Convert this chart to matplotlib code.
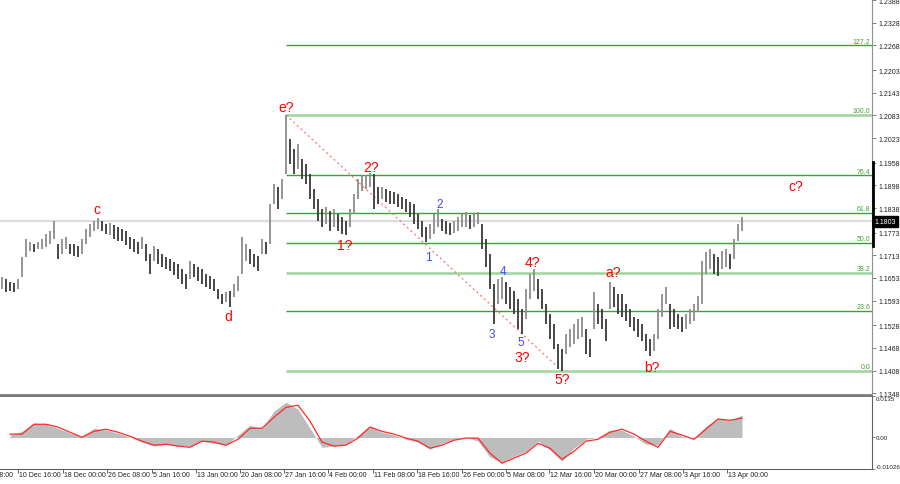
import numpy as np
import matplotlib.pyplot as plt

plt.rcParams['font.family'] = ['Liberation Sans', 'DejaVu Sans']

# H4 bars (high / low)
bar_high = [
    1.1655, 1.1650, 1.1642, 1.1640, 1.1650, 1.1708, 1.1756, 1.1748, 1.1743, 1.1748,
    1.1756, 1.1769, 1.1777, 1.1804, 1.1743, 1.1756, 1.1761, 1.1743, 1.1743, 1.1738,
    1.1756, 1.1782, 1.1796, 1.1804, 1.1811, 1.1804, 1.1796, 1.1798, 1.1793, 1.1788,
    1.1782, 1.1777, 1.1761, 1.1756, 1.1748, 1.1761, 1.1743, 1.1716, 1.1738, 1.1730,
    1.1716, 1.1708, 1.1703, 1.1695, 1.1690, 1.1677, 1.1663, 1.1698, 1.1690, 1.1682,
    1.1677, 1.1663, 1.1658, 1.1650, 1.1624, 1.1610, 1.1616, 1.1618, 1.1637, 1.1658,
    1.1761, 1.1743, 1.1730, 1.1716, 1.1711, 1.1756, 1.1748, 1.1849, 1.1901, 1.1894,
    1.1915, 1.2084, 1.2021, 1.1994, 1.2007, 1.1968, 1.1954, 1.1928, 1.1888, 1.1862,
    1.1835, 1.1841, 1.1830, 1.1835, 1.1822, 1.1814, 1.1804, 1.1835, 1.1875, 1.1915,
    1.1925, 1.1925, 1.1931, 1.1928, 1.1894, 1.1894, 1.1888, 1.1883, 1.1880, 1.1875,
    1.1867, 1.1862, 1.1854, 1.1849, 1.1822, 1.1804, 1.1788, 1.1796, 1.1822, 1.1835,
    1.1809, 1.1804, 1.1798, 1.1804, 1.1814, 1.1822, 1.1827, 1.1819, 1.1822, 1.1827,
    1.1796, 1.1756, 1.1716, 1.1637, 1.1650, 1.1655, 1.1642, 1.1629, 1.1618, 1.1597,
    1.1571, 1.1624, 1.1663, 1.1677, 1.1650, 1.1624, 1.1584, 1.1558, 1.1531, 1.1478,
    1.1465, 1.1505, 1.1518, 1.1531, 1.1544, 1.1550, 1.1518, 1.1491, 1.1616, 1.1584,
    1.1571, 1.1544, 1.1642, 1.1629, 1.1610, 1.1610, 1.1584, 1.1571, 1.1550, 1.1544,
    1.1531, 1.1505, 1.1491, 1.1505, 1.1571, 1.1610, 1.1629, 1.1584, 1.1571, 1.1558,
    1.1550, 1.1558, 1.1571, 1.1584, 1.1605, 1.1698, 1.1722, 1.1730, 1.1716, 1.1708,
    1.1724, 1.1730, 1.1716, 1.1756, 1.1796, 1.1814]
bar_low = [
    1.1624, 1.1616, 1.1618, 1.1616, 1.1624, 1.1655, 1.1708, 1.1724, 1.1722, 1.1730,
    1.1730, 1.1735, 1.1743, 1.1756, 1.1703, 1.1716, 1.1730, 1.1716, 1.1711, 1.1708,
    1.1716, 1.1743, 1.1761, 1.1777, 1.1782, 1.1777, 1.1769, 1.1767, 1.1756, 1.1751,
    1.1751, 1.1740, 1.1730, 1.1722, 1.1716, 1.1730, 1.1698, 1.1663, 1.1698, 1.1690,
    1.1682, 1.1677, 1.1671, 1.1661, 1.1650, 1.1637, 1.1624, 1.1650, 1.1655, 1.1645,
    1.1637, 1.1629, 1.1624, 1.1618, 1.1597, 1.1584, 1.1589, 1.1576, 1.1602, 1.1618,
    1.1663, 1.1698, 1.1690, 1.1682, 1.1671, 1.1716, 1.1716, 1.1743, 1.1849, 1.1835,
    1.1862, 1.1928, 1.1954, 1.1928, 1.1941, 1.1915, 1.1901, 1.1862, 1.1835, 1.1804,
    1.1788, 1.1796, 1.1777, 1.1788, 1.1777, 1.1769, 1.1767, 1.1788, 1.1822, 1.1862,
    1.1883, 1.1888, 1.1894, 1.1835, 1.1849, 1.1862, 1.1854, 1.1849, 1.1849, 1.1841,
    1.1835, 1.1827, 1.1814, 1.1796, 1.1782, 1.1761, 1.1748, 1.1756, 1.1769, 1.1788,
    1.1777, 1.1769, 1.1767, 1.1772, 1.1777, 1.1788, 1.1788, 1.1782, 1.1788, 1.1796,
    1.1730, 1.1682, 1.1624, 1.1531, 1.1584, 1.1597, 1.1584, 1.1571, 1.1558, 1.1518,
    1.1505, 1.1544, 1.1597, 1.1618, 1.1597, 1.1571, 1.1531, 1.1491, 1.1465, 1.1412,
    1.1407, 1.1452, 1.1470, 1.1478, 1.1491, 1.1497, 1.1452, 1.1444, 1.1518, 1.1531,
    1.1518, 1.1486, 1.1571, 1.1576, 1.1558, 1.1550, 1.1539, 1.1523, 1.1513, 1.1497,
    1.1486, 1.1460, 1.1446, 1.1460, 1.1491, 1.1550, 1.1584, 1.1518, 1.1523, 1.1518,
    1.1510, 1.1518, 1.1531, 1.1539, 1.1563, 1.1584, 1.1663, 1.1677, 1.1663, 1.1658,
    1.1677, 1.1682, 1.1677, 1.1703, 1.1751, 1.1777]

last_price = 1.1803
price_ticks = [1.2388, 1.2328, 1.2268, 1.2203, 1.2143, 1.2083, 1.2023, 1.1958, 1.1898,
               1.1838, 1.1773, 1.1713, 1.1653, 1.1593, 1.1528, 1.1468, 1.1408, 1.1348]

# fibo grid from e? top to 5? bottom
fib_top_bar = 71
fib_low_bar = 140
fib_high = 1.2084
fib_low = 1.1407
fib_ratios = [0.0, 23.6, 38.2, 50.0, 61.8, 76.4, 100.0, 127.2]
fib_light = [0.0, 38.2, 100.0]

# OsMA / signal, one reading every 3 bars from bar 2
macd_start = 2
macd_step = 3
macd_hist = [
    0.0008, 0.0020, 0.0047, 0.0043, 0.0030, 0.0014, 0.0004, 0.0030, 0.0024, 0.0014,
    0.0001, -0.0015, -0.0028, -0.0022, -0.0028, -0.0028, -0.0012, -0.0019, -0.0025, 0.0008,
    0.0040, 0.0030, 0.0086, 0.0115, 0.0092, 0.0030, -0.0032, -0.0028, -0.0022, 0.0008,
    0.0037, 0.0017, 0.0008, -0.0006, -0.0015, -0.0038, -0.0019, -0.0006, 0.0001, -0.0012,
    -0.0064, -0.0080, -0.0061, -0.0045, -0.0012, -0.0041, -0.0077, -0.0035, -0.0006, 0.0001,
    0.0024, 0.0024, 0.0004, -0.0022, -0.0025, 0.0030, 0.0004, -0.0002, 0.0037, 0.0063,
    0.0056, 0.0073]
macd_signal = [
    0.0011, 0.0011, 0.0043, 0.0043, 0.0034, 0.0017, 0.0001, 0.0020, 0.0027, 0.0017,
    0.0004, -0.0012, -0.0025, -0.0022, -0.0028, -0.0032, -0.0012, -0.0015, -0.0025, -0.0006,
    0.0030, 0.0030, 0.0066, 0.0098, 0.0105, 0.0053, -0.0015, -0.0028, -0.0025, -0.0002,
    0.0034, 0.0020, 0.0011, -0.0002, -0.0012, -0.0035, -0.0025, -0.0009, -0.0002, -0.0002,
    -0.0051, -0.0084, -0.0067, -0.0051, -0.0019, -0.0035, -0.0071, -0.0045, -0.0012, -0.0006,
    0.0017, 0.0027, 0.0011, -0.0012, -0.0032, 0.0020, 0.0008, -0.0006, 0.0027, 0.0060,
    0.0056, 0.0063]
macd_max = 0.0135
macd_min = -0.01026

time_ticks = [-7, 4, 15.25, 26.25, 37.5, 48.5, 59.5, 70.5, 81.5, 92.75, 103.75, 115,
              126, 136.75, 148, 159.25, 170.25, 181.25]
time_labels = ['2 Dec 08:00', '10 Dec 16:00', '18 Dec 00:00', '26 Dec 08:00', '5 Jan 16:00',
               '13 Jan 00:00', '20 Jan 08:00', '27 Jan 16:00', '4 Feb 00:00', '11 Feb 08:00',
               '18 Feb 16:00', '26 Feb 00:00', '5 Mar 08:00', '12 Mar 16:00', '20 Mar 00:00',
               '27 Mar 08:00', '3 Apr 16:00', '13 Apr 00:00']

# wave marks: text, bar, price
waves_red = [('c', 23.75, 1.1835), ('d', 56.5, 1.1552), ('e?', 71, 1.2105),
             ('1?', 85.75, 1.1740), ('2?', 92.25, 1.1946), ('3?', 130, 1.1444),
             ('4?', 132.5, 1.1695), ('5?', 140, 1.1386), ('a?', 152.75, 1.1669),
             ('b?', 162.5, 1.1417), ('c?', 198.5, 1.1896)]
waves_blue = [('1', 106.5, 1.1708), ('2', 109.5, 1.1849), ('3', 122.5, 1.1505),
              ('4', 125.25, 1.1671), ('5', 129.75, 1.1483)]

W, H = 900, 485
x_left, x_right = -0.5, 217.5

fig = plt.figure(figsize=(W / 100, H / 100), dpi=100, facecolor='white')
ax = fig.add_axes([0, 1 - 395 / H, 872 / W, 395 / H])
ax2 = fig.add_axes([0, 1 - 470 / H, 872 / W, 73 / H])

# ---- price pane
hi = np.array(bar_high)
lo = np.array(bar_low)
xs = np.arange(len(hi))
mid = (hi + lo) / 2
up = np.r_[True, mid[1:] >= mid[:-1]]
cols = np.where(up, '#8c8c8c', '#383838')

ax.axhline(last_price, color='#dcdcdc', lw=1.6, zorder=1)
ax.vlines(xs, lo, hi, colors=cols, lw=1.3, zorder=3)

for r in fib_ratios:
    lvl = fib_low + r / 100 * (fib_high - fib_low)
    if r in fib_light:
        ax.hlines(lvl, fib_top_bar, x_right, color='#9fd49f', lw=1.8, zorder=2)
    else:
        ax.hlines(lvl, fib_top_bar, x_right, color='#36a536', lw=1.0, zorder=2)
    ax.text(x_right - 0.4, lvl + 0.0002, f'{r:.1f}', ha='right', va='bottom',
            fontsize=5, color='#4a9a3a', zorder=4)

ax.plot([fib_top_bar, fib_low_bar], [fib_high, fib_low], color='#ff6a6a',
        lw=0.9, ls=(0, (1.5, 2.5)), zorder=2.5)

for s, b, p in waves_red:
    ax.text(b, p, s, ha='center', va='center', fontsize=10, color='#ff0000', zorder=5)
for s, b, p in waves_blue:
    ax.text(b, p, s, ha='center', va='center', fontsize=8.5, color='#4646ff', zorder=5)

ax.set_xlim(x_left, x_right)
ax.set_ylim(1.1346, 1.2391)
ax.set_xticks([])
ax.yaxis.tick_right()
ax.set_yticks(price_ticks)
ax.set_yticklabels([f'{v:.4f}' for v in price_ticks])
ax.tick_params(axis='y', length=3, width=0.7, color='#808080', labelsize=5,
               pad=1.5, labelcolor='#222222')
for side in ['left', 'top']:
    ax.spines[side].set_visible(False)
ax.spines['right'].set_color('#909090')
ax.spines['bottom'].set_color('#909090')

yt = ax.get_yaxis_transform()
ax.plot([1.0015, 1.0015], [1.1960, 1.1738], transform=yt, color='black',
        lw=2.0, clip_on=False, zorder=6)
ax.text(1.003, last_price, f'{last_price:.4f}', transform=yt, ha='left', va='center',
        fontsize=5, color='white', zorder=7,
        bbox=dict(boxstyle='square,pad=0.3', fc='black', ec='black'))

# ---- OsMA pane
mx = macd_start + macd_step * np.arange(len(macd_hist))
ax2.fill_between(mx, 0, macd_hist, color='#bdbdbd', lw=0, zorder=2)
ax2.plot(mx, macd_signal, color='#ff2a2a', lw=0.9, zorder=3)

ax2.set_xlim(x_left, x_right)
ax2.set_ylim(macd_min, macd_max)
ax2.yaxis.tick_right()
ax2.set_yticks([macd_max, 0, macd_min])
ax2.set_yticklabels(['0.0135', '0.00', '-0.01026'])
ax2.tick_params(axis='y', length=2, width=0.7, color='#808080', labelsize=4.5,
                pad=0.5, labelcolor='#222222')
lbls = ax2.get_yticklabels()
lbls[0].set_va('top')
lbls[2].set_va('bottom')

in_view = [t for t in time_ticks if x_left <= t <= x_right]
ax2.set_xticks(in_view)
ax2.set_xticklabels([])
ax2.tick_params(axis='x', length=3, width=0.7, color='#606060')
xt = ax2.get_xaxis_transform()
for t, s in zip(time_ticks, time_labels):
    ax2.text(t + 0.3, -0.08, s, transform=xt, ha='left', va='center', fontsize=5,
             color='#222222', clip_on=False)

ax2.spines['left'].set_visible(False)
for side in ['top', 'bottom', 'right']:
    ax2.spines[side].set_color('#606060')
ax2.spines['top'].set_linewidth(1.2)

fig.savefig('out.png', dpi=100, facecolor='white')
